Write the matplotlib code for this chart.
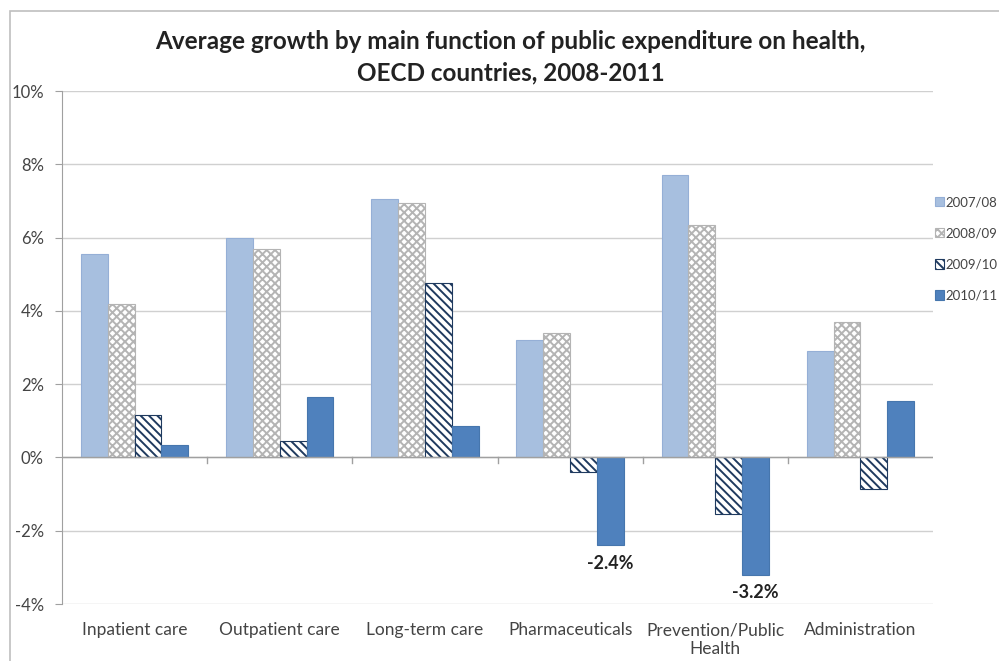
import numpy as np
import matplotlib.pyplot as plt
from matplotlib.patches import Rectangle
from matplotlib.ticker import FuncFormatter

plt.rcParams['font.family'] = ['Lato', 'DejaVu Sans']
plt.rcParams['hatch.linewidth'] = 1.4

categories = ['Inpatient care', 'Outpatient care', 'Long-term care', 'Pharmaceuticals',
              'Prevention/Public\nHealth', 'Administration']
periods = ['2007/08', '2008/09', '2009/10', '2010/11']
g0708 = [5.55, 6.0, 7.05, 3.2, 7.7, 2.9]
g0809 = [4.2, 5.7, 6.95, 3.4, 6.35, 3.7]
g0910 = [1.15, 0.45, 4.75, -0.4, -1.55, -0.85]
g1011 = [0.33, 1.65, 0.85, -2.4, -3.2, 1.55]

series = [g0708, g0809, g0910, g1011]
faces = ['#a7bfdf', 'white', 'white', '#4f81bd']
edges = ['#95afd6', '#b4b4b4', '#1f3a5f', '#4676ad']
hatches = [None, 'xxxx', '\\\\\\\\', None]

fig = plt.figure(figsize=(9.99, 6.61), dpi=100)
fig.patches.append(Rectangle((0.010, -0.1), 1.1, 1.083, transform=fig.transFigure,
                             fill=False, edgecolor='#bfbfbf', lw=1.2))
ax = fig.add_axes([0.062, 0.0862, 0.872, 0.7761])

x = np.arange(len(categories))
w = 0.185
for i, vals in enumerate(series):
    ax.bar(x + (i - 1.5) * w, vals, w, color=faces[i], edgecolor=edges[i],
           hatch=hatches[i], lw=0.8, label=periods[i], zorder=3)

# labels for the biggest drops
ax.text(x[3] + 1.5 * w, g1011[3] - 0.25, '%.1f%%' % g1011[3], ha='center', va='top',
        fontsize=13, fontweight='bold', color='#222222')
ax.text(x[4] + 1.5 * w, g1011[4] - 0.25, '%.1f%%' % g1011[4], ha='center', va='top',
        fontsize=13, fontweight='bold', color='#222222')

ax.set_xlim(-0.5, len(categories) - 0.5)
ax.set_ylim(-4, 10)
ax.set_yticks(np.arange(-4, 11, 2))
ax.yaxis.set_major_formatter(FuncFormatter(lambda v, p: '%d%%' % v))
ax.grid(axis='y', color='#d0d0d0', lw=1, zorder=0)
ax.axhline(0, color='#a0a0a0', lw=1, zorder=4)
for s in ['top', 'right', 'bottom']:
    ax.spines[s].set_visible(False)
ax.spines['left'].set_color('#a0a0a0')
ax.tick_params(axis='y', colors='#a0a0a0', labelcolor='#444444', labelsize=12, length=5, pad=8)
ax.set_xticks(x)
ax.set_xticklabels(categories, fontsize=12.5, color='#444444')
ax.tick_params(axis='x', length=0, pad=13)
for b in np.arange(0.5, len(categories) - 1, 1.0):
    ax.plot([b, b], [0, -0.15], color='#a0a0a0', lw=1, zorder=4)

fig.text(0.511, 0.914, 'Average growth by main function of public expenditure on health,\nOECD countries, 2008-2011',
         ha='center', va='center', fontsize=17.5, fontweight='bold', color='#222222', linespacing=1.45)

fig.legend(loc='upper left', bbox_to_anchor=(0.936, 0.703), frameon=False, fontsize=9.5,
           handlelength=0.7, handleheight=0.7, handletextpad=0.1, labelspacing=1.45,
           borderpad=0, borderaxespad=0, labelcolor='#444444')

fig.savefig('out.png', dpi=100)
